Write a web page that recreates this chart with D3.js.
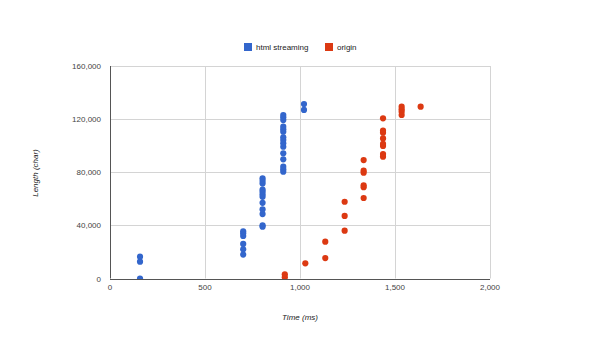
<!DOCTYPE html>
<html><head><meta charset="utf-8">
<script src="https://cdn.jsdelivr.net/npm/d3@7"></script>
<style>body{margin:0;background:#fff;}svg{display:block;font-family:"Liberation Sans",Arial,sans-serif;}</style>
</head><body>
<svg id="c" width="600" height="344"></svg>
<script>
const seriesNames = ["html streaming", "origin"];
const seriesColors = ["#3366cc", "#dc3912"];
const xTicks = [0, 500, 1000, 1500, 2000];
const yTicks = [0, 40000, 80000, 120000, 160000];
const xTitle = "Time (ms)";
const yTitle = "Length (char)";
// html streaming points [time, length]
const htmlStreaming = [
  [158, 0], [158, 12700], [158, 16400],
  [701, 18000], [701, 22000], [701, 26000], [701, 32000], [701, 34000], [701, 35500],
  [803, 39000], [803, 40000], [803, 48500], [803, 52000], [803, 57000], [803, 61500],
  [803, 63500], [803, 65500], [803, 67000], [803, 71500], [803, 73500], [803, 75500],
  [912, 80400], [912, 82200], [912, 84200], [912, 89700], [912, 94300], [912, 99200],
  [912, 101800], [912, 104300], [912, 106300], [912, 110500], [912, 112300], [912, 114300],
  [912, 119300], [912, 121400], [912, 123100],
  [1021, 126900], [1021, 131400]
];
// origin points [time, length]
const origin = [
  [920, 1000], [920, 3200],
  [1028, 11400],
  [1133, 15400], [1133, 27700],
  [1235, 36000], [1235, 47100], [1235, 57800],
  [1335, 60600], [1335, 68700], [1335, 70200], [1335, 79700], [1335, 81200], [1335, 89200],
  [1437, 91700], [1437, 93700], [1437, 99800], [1437, 101300], [1437, 105500],
  [1437, 109800], [1437, 111300], [1437, 120600],
  [1535, 123100], [1535, 125600], [1535, 127400], [1535, 129400],
  [1635, 129400]
];

const svg = d3.select("#c");
const x = d3.scaleLinear().domain([0, 2000]).range([110, 490]);
const y = d3.scaleLinear().domain([0, 160000]).range([278.5, 66]);
const fmt = d3.format(",");

svg.append("defs").append("clipPath").attr("id", "plot")
  .append("rect").attr("x", 0).attr("y", 0).attr("width", 600).attr("height", Math.round(y(0)));

// gridlines
const g = svg.append("g");
g.selectAll(".gx").data(xTicks.filter(d => d !== 0)).join("line")
  .attr("x1", d => Math.round(x(d)) + 0.5).attr("x2", d => Math.round(x(d)) + 0.5)
  .attr("y1", y(160000)).attr("y2", y(0)).attr("stroke", "#d4d4d4");
g.selectAll(".gy").data(yTicks.filter(d => d !== 0)).join("line")
  .attr("y1", d => Math.round(y(d)) + 0.5).attr("y2", d => Math.round(y(d)) + 0.5)
  .attr("x1", x(0)).attr("x2", x(2000)).attr("stroke", "#d4d4d4");

// points
const all = [htmlStreaming, origin];
all.forEach((data, i) => {
  svg.append("g").attr("clip-path", "url(#plot)").selectAll("circle").data(data).join("circle")
    .attr("cx", d => x(d[0])).attr("cy", d => y(d[1])).attr("r", 3.1)
    .attr("fill", seriesColors[i]);
});

// baselines
g.append("line").attr("x1", x(0) + 0.5).attr("x2", x(0) + 0.5).attr("y1", y(160000)).attr("y2", y(0))
  .attr("stroke", "#555");
svg.append("line").attr("x1", x(0)).attr("x2", x(2000)).attr("y1", Math.round(y(0)) + 0.5).attr("y2", Math.round(y(0)) + 0.5)
  .attr("stroke", "#555");

// tick labels
svg.append("g").selectAll("text").data(xTicks).join("text")
  .attr("x", d => x(d)).attr("y", 290).attr("text-anchor", "middle")
  .attr("font-size", 8).attr("fill", "#444").text(d => fmt(d));
svg.append("g").selectAll("text").data(yTicks).join("text")
  .attr("x", 101).attr("y", d => y(d) + 3).attr("text-anchor", "end")
  .attr("font-size", 8).attr("fill", "#444").text(d => fmt(d));

// axis titles
svg.append("text").attr("x", 300).attr("y", 320).attr("text-anchor", "middle")
  .attr("font-size", 8).attr("font-style", "italic").attr("fill", "#222").text(xTitle);
svg.append("text").attr("transform", "translate(38,173) rotate(-90)").attr("text-anchor", "middle")
  .attr("font-size", 8).attr("font-style", "italic").attr("fill", "#222").text(yTitle);

// legend
const legendX = [244, 325];
seriesNames.forEach((n, i) => {
  svg.append("rect").attr("x", legendX[i]).attr("y", 43).attr("width", 8).attr("height", 8)
    .attr("fill", seriesColors[i]);
  svg.append("text").attr("x", legendX[i] + 12).attr("y", 50).attr("font-size", 8)
    .attr("fill", "#222").text(n);
});
</script>
</body></html>
